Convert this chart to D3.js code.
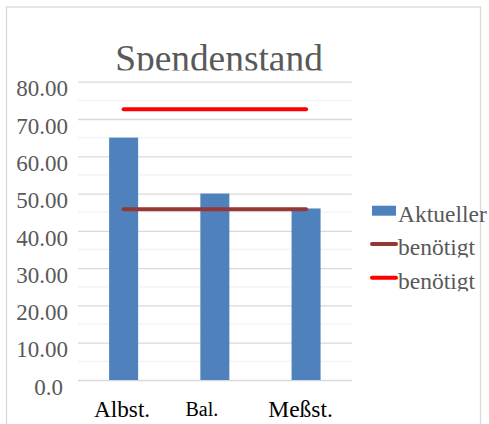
<!DOCTYPE html>
<html>
<head>
<meta charset="utf-8">
<script src="https://cdn.jsdelivr.net/npm/d3@7"></script>
<style>
  body { margin: 0; background: #fff; }
  svg { display: block; }
  text { font-family: "Liberation Serif", "Times New Roman", serif; }
</style>
</head>
<body>
<div id="svg-div"></div>
<script>
// data
const categories = ['Albst.', 'Bal.', 'Meßst.'];
const aktueller = [65, 50, 46];
const benoetigtA = [45.8, 45.8, 45.8];
const benoetigtB = [72.6, 72.6, 72.6];
const yTicks = [0, 10, 20, 30, 40, 50, 60, 70, 80];
const yTickLabels = ['0.0', '10.00', '20.00', '30.00', '40.00', '50.00', '60.00', '70.00', '80.00'];
const legendLabels = ['Aktueller', 'benötigt', 'benötigt'];

const width = 489;
const height = 424;
const font = '"Liberation Serif", "Times New Roman", serif';
const grey = '#595959';

const svg = d3.select('#svg-div')
              .append('svg')
                .attr('width', width)
                .attr('height', height);

const defs = svg.append('defs');

// outer frame
svg.append('rect')
   .attr('x', 6.5)
   .attr('y', 7)
   .attr('width', 474)
   .attr('height', 430)
   .attr('fill', 'none')
   .attr('stroke', '#d9d9d9')
   .attr('stroke-width', 1.3);

const xScale = d3.scaleBand()
                 .domain(categories)
                 .range([78, 351.7]);

const yScale = d3.scaleLinear()
                 .domain([0, 80])
                 .range([380, 81.7]);

// title, cut off at the baseline like the original
defs.append('clipPath').attr('id', 'titleClip')
    .append('rect').attr('x', 0).attr('y', 0).attr('width', width).attr('height', 70.5);

svg.append('text')
   .attr('clip-path', 'url(#titleClip)')
   .attr('x', 219)
   .attr('y', 71)
   .attr('text-anchor', 'middle')
   .style('font-family', font)
   .attr('font-size', 37.4)
   .attr('fill', grey)
   .text('Spendenstand');

// minor + major gridlines
const minor = d3.range(5, 80, 10);
svg.append('g').selectAll('line')
   .data(minor)
   .enter().append('line')
     .attr('x1', xScale.range()[0])
     .attr('x2', xScale.range()[1])
     .attr('y1', d => yScale(d))
     .attr('y2', d => yScale(d))
     .attr('stroke', '#f2f2f2')
     .attr('stroke-width', 1.3);

const yAxis = svg.append('g')
                 .attr('transform', `translate(${xScale.range()[0]}, 0)`)
                 .call(d3.axisLeft(yScale)
                         .tickValues(yTicks)
                         .tickSize(-(xScale.range()[1] - xScale.range()[0]))
                         .tickPadding(10)
                         .tickFormat((d, i) => yTickLabels[i]));

yAxis.attr('font-family', font).attr('font-size', 23);
yAxis.select('.domain').remove();
yAxis.selectAll('.tick line')
     .attr('stroke', '#d9d9d9')
     .attr('stroke-width', 1.3);
yAxis.selectAll('.tick text')
     .style('font-family', font)
     .style('font-size', '23px')
     .attr('fill', grey)
     .attr('dy', '0.62em')
     .attr('x', (d, i) => d === 0 ? -15 : -10);

// bars
const barWidth = 29;
svg.append('g').selectAll('rect')
   .data(aktueller)
   .enter().append('rect')
     .attr('x', (d, i) => xScale(categories[i]) + xScale.bandwidth() / 2 - barWidth / 2)
     .attr('y', d => yScale(d))
     .attr('width', barWidth)
     .attr('height', d => yScale(0) - yScale(d))
     .attr('fill', '#4f81bd');

// lines
const line = d3.line()
               .x((d, i) => xScale(categories[i]) + xScale.bandwidth() / 2)
               .y(d => yScale(d));

svg.append('path')
   .attr('d', line(benoetigtA))
   .attr('fill', 'none')
   .attr('stroke', '#953735')
   .attr('stroke-width', 4)
   .attr('stroke-linecap', 'round');

svg.append('path')
   .attr('d', line(benoetigtB))
   .attr('fill', 'none')
   .attr('stroke', '#ff0000')
   .attr('stroke-width', 4)
   .attr('stroke-linecap', 'round');

// category labels
const labelShift = [-1.5, -13, -5.5];
const labelSize = [23.2, 20, 23.5];
const labelBase = [417.3, 415.7, 417];
svg.append('g').selectAll('text')
   .data(categories)
   .enter().append('text')
     .attr('x', (d, i) => xScale(d) + xScale.bandwidth() / 2 + labelShift[i])
     .attr('y', (d, i) => labelBase[i])
     .attr('text-anchor', 'middle')
     .style('font-family', font)
     .attr('font-size', (d, i) => labelSize[i])
     .attr('fill', '#000')
     .text(d => d);

// legend
const legendColors = ['#4f81bd', '#953735', '#ff0000'];
const legendBase = [222, 255, 288.7];
const legend = svg.append('g');

legendLabels.forEach(function(label, i) {
    defs.append('clipPath').attr('id', 'legClip' + i)
        .append('rect').attr('x', 360).attr('y', legendBase[i] - 30)
        .attr('width', 140).attr('height', 32.5);

    const g = legend.append('g').attr('clip-path', `url(#legClip${i})`);
    if (i === 0) {
        g.append('rect')
         .attr('x', 372).attr('y', 205.7)
         .attr('width', 24).attr('height', 10)
         .attr('fill', legendColors[i]);
    } else {
        g.append('line')
         .attr('x1', 372).attr('x2', 396)
         .attr('y1', legendBase[i] - 11).attr('y2', legendBase[i] - 11)
         .attr('stroke', legendColors[i])
         .attr('stroke-width', 4)
         .attr('stroke-linecap', 'round');
    }
    g.append('text')
     .attr('x', 398)
     .attr('y', legendBase[i])
     .style('font-family', font)
     .attr('font-size', 23.5)
     .attr('fill', grey)
     .text(label);
});
</script>
</body>
</html>
